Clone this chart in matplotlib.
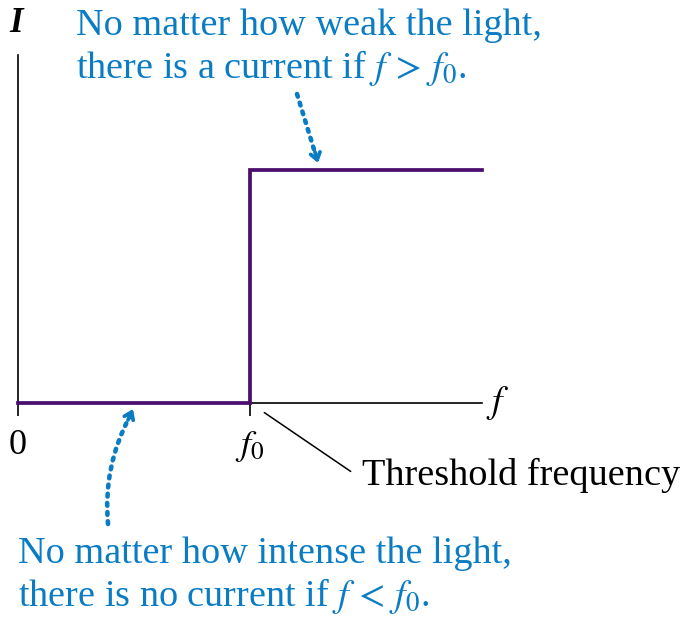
import matplotlib.pyplot as plt

plt.rcParams['font.family'] = ['Liberation Serif', 'DejaVu Serif']
plt.rcParams['mathtext.fontset'] = 'stix'

# data: photocurrent I vs frequency f (f0 = 1)
freq = [0, 1, 1, 2]
current = [0, 0, 1, 1]
tick_pos = [0, 1]
tick_labels = ['0', '$f_0$']

blue = '#0a7cc4'
purple = '#4b0d6e'
fs = 27.5

fig = plt.figure(figsize=(6.84, 6.19), dpi=100)
ax = fig.add_axes([18 / 684, 216 / 619, 464 / 684, 348 / 619])
ax.set_xlim(0, 2)
ax.set_ylim(0, 348 / 233)

for s in ['top', 'right']:
    ax.spines[s].set_visible(False)
for s in ['left', 'bottom']:
    ax.spines[s].set_linewidth(1.2)

ax.plot(freq, current, color=purple, lw=2.7, clip_on=False, zorder=5,
        solid_joinstyle='miter')

ax.set_yticks([])
ax.set_xticks(tick_pos)
ax.set_xticklabels(tick_labels, fontsize=26)
ax.tick_params(axis='x', direction='out', length=9, width=1.2, pad=10)


def px(x, y):
    # pixel position in the picture -> data coordinates
    return ((x - 18) / 232, (403 - y) / 233)


# axis labels
ax.text(*px(16, 24), 'I', fontsize=25, fontweight='bold', fontstyle='italic',
        ha='center', va='center')
ax.text(*px(486, 403), '$f$', fontsize=27, ha='left', va='center')

# threshold leader
ax.annotate('', xy=px(262, 411), xytext=px(353, 473),
            arrowprops=dict(arrowstyle='-', color='black', lw=1.1),
            annotation_clip=False)
ax.text(*px(362, 485), 'Threshold frequency', fontsize=fs,
        ha='left', va='baseline')

# top note
ax.text(*px(76, 35), 'No matter how weak the light,', fontsize=fs,
        color=blue, ha='left', va='baseline')
ax.text(*px(76, 78), r'there is a current if $f\,>\,f_0$.', fontsize=fs,
        color=blue, ha='left', va='baseline')

# bottom note
ax.text(*px(18, 563), 'No matter how intense the light,', fontsize=fs,
        color=blue, ha='left', va='baseline')
ax.text(*px(18, 606), r'there is no current if $f\,<\,f_0$.', fontsize=fs,
        color=blue, ha='left', va='baseline')

# dotted arrows: shaft dotted, head solid
dots = (0, (0.6, 1.4))
ax.annotate('', xy=px(316, 156), xytext=px(297, 94),
            arrowprops=dict(arrowstyle='-', color=blue, lw=3.3,
                            linestyle=dots, shrinkA=0, shrinkB=0),
            annotation_clip=False)
ax.annotate('', xy=px(318, 163), xytext=px(315, 152),
            arrowprops=dict(arrowstyle='->,head_length=0.5,head_width=0.35',
                            color=blue, lw=2.7, shrinkA=0, shrinkB=0),
            annotation_clip=False)

ax.annotate('', xy=px(130, 416), xytext=px(108, 524),
            arrowprops=dict(arrowstyle='-', color=blue, lw=3.3,
                            linestyle=dots, shrinkA=0, shrinkB=0,
                            connectionstyle='arc3,rad=-0.15'),
            annotation_clip=False)
ax.annotate('', xy=px(133, 409), xytext=px(128, 420),
            arrowprops=dict(arrowstyle='->,head_length=0.5,head_width=0.35',
                            color=blue, lw=2.7, shrinkA=0, shrinkB=0),
            annotation_clip=False)

fig.savefig('out.png', dpi=100)
